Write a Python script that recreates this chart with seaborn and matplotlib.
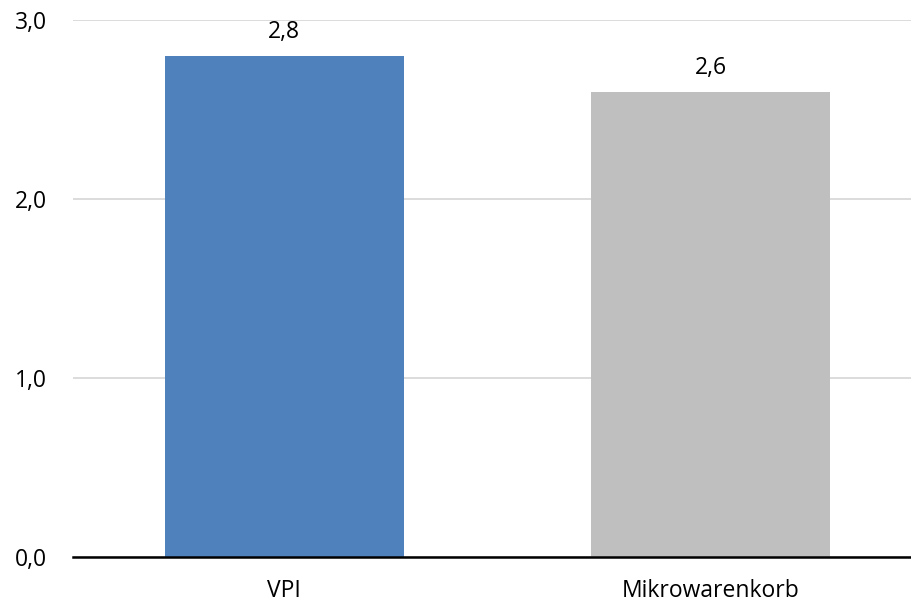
import matplotlib
matplotlib.use("Agg")
import matplotlib.pyplot as plt
import seaborn as sns
import pandas as pd

# Chart data
categories = ["VPI", "Mikrowarenkorb"]
values = [2.8, 2.6]
bar_colors = ["#4F81BD", "#BFBFBF"]
y_ticks = [0.0, 1.0, 2.0, 3.0]

df = pd.DataFrame({"category": categories, "value": values})

sns.set_theme(style="white")
plt.rcParams["font.family"] = ["Open Sans", "DejaVu Sans"]

fig = plt.figure(figsize=(9.11, 6.03), dpi=100)
ax = fig.add_axes([73 / 911, 46 / 603, 1 - 73 / 911, (557 - 20) / 603])

sns.barplot(data=df, x="category", y="value", hue="category",
            palette=bar_colors, saturation=1, width=0.56, linewidth=0,
            legend=False, ax=ax, zorder=3)

# value labels with comma decimal
for p, v in zip(ax.patches, values):
    ax.text(p.get_x() + p.get_width() / 2, v + 0.065, f"{v:.1f}".replace(".", ","),
            ha="center", va="bottom", fontsize=16.5, color="#000000")

ax.set_ylim(0, 3.0)
ax.set_xlim(-0.495, 1.47)
ax.set_yticks(y_ticks)
ax.set_yticklabels([f"{t:.1f}".replace(".", ",") for t in y_ticks])
ax.yaxis.grid(True, color="#D9D9D9", linewidth=1.3, zorder=0)
ax.set_axisbelow(True)
ax.set_xlabel("")
ax.set_ylabel("")
ax.tick_params(axis="both", length=0, labelsize=16.5, colors="#000000")
ax.tick_params(axis="y", pad=19)
ax.tick_params(axis="x", pad=16)

for side in ["top", "right", "left"]:
    ax.spines[side].set_visible(False)
ax.spines["bottom"].set_color("#000000")
ax.spines["bottom"].set_linewidth(1.8)
ax.spines["bottom"].set_zorder(4)

fig.savefig("out.png", dpi=100)
